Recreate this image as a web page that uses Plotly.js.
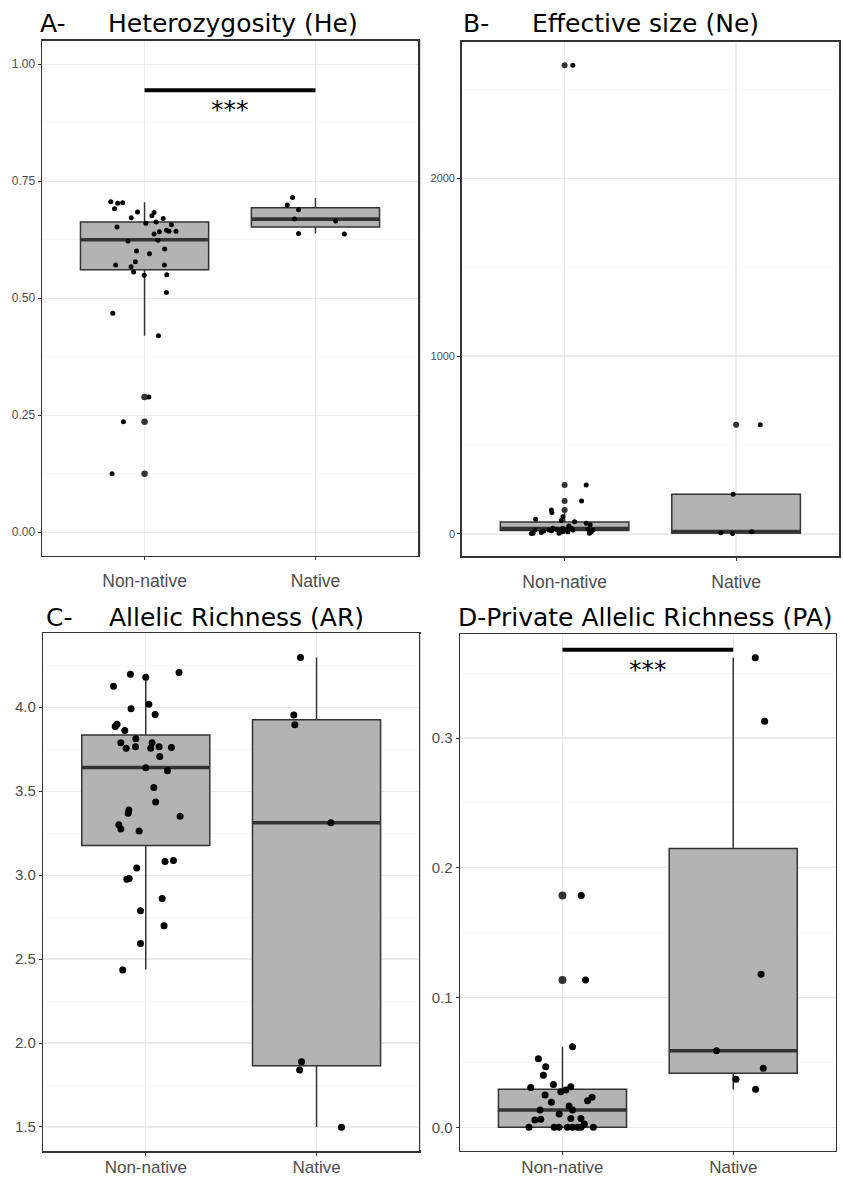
<!DOCTYPE html>
<html>
<head>
<meta charset="utf-8">
<script src="https://cdn.plot.ly/plotly-3.0.1.min.js"></script>
<style>html,body{margin:0;padding:0;background:#fff;}#chart{width:843px;height:1177px;}</style>
</head>
<body>
<div id="chart"></div>
<script>
// ---------------- DATA ----------------
var categories = ['Non-native', 'Native'];

// A - Heterozygosity (He)
var heNonNative = [0.706,0.703,0.704,0.691,0.684,0.672,0.683,0.676,0.670,0.663,0.660,0.657,0.652,0.642,0.637,0.645,0.643,0.643,0.624,0.622,0.601,0.605,0.595,0.571,0.578,0.567,0.571,0.556,0.549,0.550,0.512,0.468,0.420,0.289,0.236,0.125];
var heNonNativeJitter = [-0.198,-0.157,-0.128,-0.176,-0.041,-0.078,0.056,0.043,0.109,0.068,0.008,0.157,-0.161,0.087,0.056,0.128,0.143,0.184,0.079,-0.097,-0.047,0.118,0.029,-0.169,-0.054,-0.079,0.116,-0.064,-0.002,0.130,0.128,-0.186,0.081,0.025,-0.124,-0.190];
var heNative = [0.715,0.699,0.689,0.669,0.665,0.638,0.637];
var heNativeJitter = [-0.134,-0.165,-0.099,-0.122,0.118,-0.099,0.169];
var heQ1 = [0.561,0.652], heMedian = [0.625,0.669], heQ3 = [0.663,0.693], heLower = [0.420,0.638], heUpper = [0.705,0.714];
var heOutNonNative = [0.289,0.236,0.125];
var heOutNative = [];
var heSig = [0.944, 0.902]; // bar level, label level

// B - Effective size (Ne)
var neNonNative = [2635,275,185,135,120,82,97,75,69,60,51,45,4,22,8,17,22,18,27,4,22,13,22,13,32,22,27,4,22,2,32,32,13];
var neNonNativeJitter = [0.048,0.126,0.099,-0.077,-0.074,-0.169,-0.010,-0.019,0.058,0.126,0.149,0.025,-0.184,-0.174,-0.136,-0.122,-0.091,-0.076,-0.048,-0.033,-0.025,-0.016,0.010,0.019,0.039,0.048,0.136,0.145,0.165,-0.194,-0.068,-0.010,0.155];
var neNative = [614,223,7,2,13];
var neNativeJitter = [0.141,-0.017,-0.089,-0.021,0.091];
var neQ1 = [19,5], neMedian = [30,13], neQ3 = [67,223], neLower = [0,2], neUpper = [120,223];
var neOutNonNative = [2635,275,185,135];
var neOutNative = [614];

// C - Allelic Richness (AR)
var arNonNative = [4.125,4.196,4.179,4.206,3.990,4.018,3.956,3.885,3.899,3.861,3.812,3.788,3.756,3.764,3.788,3.756,3.764,3.760,3.706,3.639,3.621,3.522,3.435,3.387,3.369,3.351,3.300,3.274,3.262,3.081,3.087,3.042,2.976,2.980,2.861,2.788,2.698,2.593,2.435];
var arNonNativeJitter = [-0.189,-0.090,0.000,0.195,-0.086,0.018,0.055,-0.179,-0.168,-0.123,-0.058,-0.146,-0.115,-0.060,0.037,0.029,0.078,0.150,0.082,0.000,0.127,0.047,0.058,-0.099,-0.103,0.201,-0.158,-0.146,-0.039,0.113,0.162,-0.053,-0.111,-0.097,0.096,-0.031,0.107,-0.031,-0.135];
var arNative = [4.296,3.954,3.895,3.312,1.889,1.839,1.498];
var arNativeJitter = [-0.094,-0.133,-0.127,0.084,-0.088,-0.099,0.146];
var arQ1 = [3.177,1.865], arMedian = [3.641,3.312], arQ3 = [3.835,3.925], arLower = [2.438,1.500], arUpper = [4.170,4.296];
var arOutNonNative = [];
var arOutNative = [];

// D - Private Allelic Richness (PA)
var paNonNative = [0.0621,0.0529,0.0467,0.0401,0.0308,0.0331,0.0275,0.0288,0.0313,0.0249,0.0193,0.0205,0.0231,0.0133,0.0164,0.0133,0.0103,0.0056,0.0062,0.0069,0.0069,0.0025,0,0,0,0,0,0,0,0,0.1787,0.1136];
var paNonNativeJitter = [0.059,-0.141,-0.098,-0.112,-0.186,-0.053,-0.010,0.020,0.049,-0.102,-0.065,0.147,0.173,-0.131,0.039,0.059,-0.019,-0.161,-0.127,0.049,0.108,0.128,-0.196,-0.049,-0.020,0.029,0.059,0.088,0.108,0.181,0.110,0.135];
var paNative = [0.362,0.313,0.118,0.059,0.0455,0.037,0.0293];
var paNativeJitter = [0.129,0.184,0.163,-0.098,0.176,0.016,0.131];
var paQ1 = [0,0.0416], paMedian = [0.0134,0.059], paQ3 = [0.0293,0.215], paLower = [0,0.0293], paUpper = [0.0621,0.362];
var paOutNonNative = [0.1787,0.1136];
var paOutNative = [];
var paSig = [0.368, 0.353];

// tick labels
var heTicks = [0,0.25,0.5,0.75,1.0], heTickText = ['0.00','0.25','0.50','0.75','1.00'], heMinor = [0.125,0.375,0.625,0.875];
var neTicks = [0,1000,2000], neTickText = ['0','1000','2000'], neMinor = [500,1500,2500];
var arTicks = [1.5,2.0,2.5,3.0,3.5,4.0], arTickText = ['1.5','2.0','2.5','3.0','3.5','4.0'], arMinor = [1.75,2.25,2.75,3.25,3.75,4.25];
var paTicks = [0,0.1,0.2,0.3], paTickText = ['0.0','0.1','0.2','0.3'], paMinor = [0.05,0.15,0.25,0.35];

// ---------------- STYLE / BUILD ----------------
var W = 843, H = 1177;
var BOXW = 0.75;
var boxFill = '#b3b3b3', boxLine = '#333333', frame = '#333333';

function addPanel(traces, ax, s) {
  var xa = 'x' + (ax === 1 ? '' : ax), ya = 'y' + (ax === 1 ? '' : ax);
  traces.push({
    type: 'box', x: [0, 1], q1: s.q1, median: s.median, q3: s.q3,
    lowerfence: s.lower, upperfence: s.upper, width: BOXW,
    fillcolor: boxFill, line: {color: boxLine, width: 1.5}, whiskerwidth: 0,
    boxpoints: false, xaxis: xa, yaxis: ya, hoverinfo: 'skip'
  });
  for (var i = 0; i < 2; i++) {
    traces.push({
      type: 'scatter', mode: 'lines', x: [i - BOXW / 2, i + BOXW / 2], y: [s.median[i], s.median[i]],
      line: {color: boxLine, width: 3.6}, xaxis: xa, yaxis: ya, hoverinfo: 'skip'
    });
  }
  var outs = [s.outN, s.outNat];
  for (var c = 0; c < 2; c++) {
    if (outs[c].length) {
      traces.push({
        type: 'scatter', mode: 'markers', x: outs[c].map(function () { return c; }), y: outs[c],
        marker: {color: '#333333', size: s.outSize}, xaxis: xa, yaxis: ya, hoverinfo: 'skip'
      });
    }
  }
  var vals = [s.vN, s.vNat], jit = [s.jN, s.jNat];
  for (var k = 0; k < 2; k++) {
    traces.push({
      type: 'scatter', mode: 'markers', x: jit[k].map(function (d) { return k + d; }), y: vals[k],
      marker: {color: '#000000', size: s.ptSize}, xaxis: xa, yaxis: ya, hoverinfo: 'skip'
    });
  }
  if (s.sig) {
    traces.push({
      type: 'scatter', mode: 'lines', x: [0, 1], y: [s.sig[0], s.sig[0]],
      line: {color: '#000000', width: 4}, xaxis: xa, yaxis: ya, hoverinfo: 'skip'
    });
  }
}

var traces = [];
addPanel(traces, 1, {q1: heQ1, median: heMedian, q3: heQ3, lower: heLower, upper: heUpper,
  outN: heOutNonNative, outNat: heOutNative, vN: heNonNative, jN: heNonNativeJitter, vNat: heNative, jNat: heNativeJitter,
  ptSize: 5, outSize: 6.5, sig: heSig});
addPanel(traces, 2, {q1: neQ1, median: neMedian, q3: neQ3, lower: neLower, upper: neUpper,
  outN: neOutNonNative, outNat: neOutNative, vN: neNonNative, jN: neNonNativeJitter, vNat: neNative, jNat: neNativeJitter,
  ptSize: 5, outSize: 6});
addPanel(traces, 3, {q1: arQ1, median: arMedian, q3: arQ3, lower: arLower, upper: arUpper,
  outN: arOutNonNative, outNat: arOutNative, vN: arNonNative, jN: arNonNativeJitter, vNat: arNative, jNat: arNativeJitter,
  ptSize: 7, outSize: 8});
addPanel(traces, 4, {q1: paQ1, median: paMedian, q3: paQ3, lower: paLower, upper: paUpper,
  outN: paOutNonNative, outNat: paOutNative, vN: paNonNative, jN: paNonNativeJitter, vNat: paNative, jNat: paNativeJitter,
  ptSize: 7, outSize: 8, sig: paSig});

function xAxis(left, right, standoff, fsize) {
  return {
    domain: [left / W, right / W], range: [-0.6, 1.6], tickmode: 'array', tickvals: [0, 1], ticktext: categories,
    showgrid: true, gridcolor: '#ededed', gridwidth: 1.2, zeroline: false,
    showline: true, mirror: true, linecolor: frame, linewidth: 1.5,
    ticks: 'outside', ticklen: 3, tickcolor: frame, tickwidth: 1,
    ticklabelstandoff: standoff,
    tickfont: {family: 'Liberation Sans, Arial, sans-serif', size: fsize, color: '#4d4d4d'}, fixedrange: true
  };
}
function yAxis(top, bottom, range, tv, tt, minor, fsize, anchor) {
  return {
    domain: [(H - bottom) / H, (H - top) / H], range: range, tickmode: 'array', tickvals: tv, ticktext: tt,
    showgrid: true, gridcolor: '#ebebeb', gridwidth: 1.2, zeroline: false,
    minor: {tickmode: 'array', tickvals: minor, showgrid: true, gridcolor: '#f5f5f5', gridwidth: 0.7, ticks: ''},
    showline: true, mirror: true, linecolor: frame, linewidth: 1.5,
    ticks: 'outside', ticklen: 3, tickcolor: frame, tickwidth: 1,
    tickfont: {family: 'Liberation Sans, Arial, sans-serif', size: fsize, color: '#4d4d4d'}, fixedrange: true,
    anchor: anchor
  };
}

var titleFont = {family: 'DejaVu Sans, sans-serif', size: 25, color: '#000000'};
function ann(text, xpx, ypx, xanchor) {
  return {text: text, xref: 'paper', yref: 'paper', x: xpx / W, y: 1 - ypx / H, xanchor: xanchor, yanchor: 'middle',
    showarrow: false, font: titleFont};
}

var layout = {
  width: W, height: H, margin: {l: 0, r: 0, t: 0, b: 0},
  paper_bgcolor: '#ffffff', plot_bgcolor: '#ffffff', showlegend: false,
  xaxis: xAxis(42, 418, 6, 17.5), yaxis: yAxis(40.7, 555.7, [-0.05, 1.05], heTicks, heTickText, heMinor, 12, 'x'),
  xaxis2: Object.assign(xAxis(461.7, 839, 6, 17.5), {anchor: 'y2'}), yaxis2: yAxis(41.7, 556, [-124, 2767], neTicks, neTickText, neMinor, 11, 'x2'),
  xaxis3: Object.assign(xAxis(43.3, 419, -3, 17), {anchor: 'y3'}), yaxis3: yAxis(633.3, 1151, [1.357, 4.44], arTicks, arTickText, arMinor, 15, 'x3'),
  xaxis4: Object.assign(xAxis(460, 835.7, -3, 17), {anchor: 'y4'}), yaxis4: yAxis(634.3, 1150.7, [-0.018, 0.380], paTicks, paTickText, paMinor, 15, 'x4'),
  annotations: [
    ann('A-', 38, 23, 'left'), ann('Heterozygosity (He)', 106, 23, 'left'),
    ann('B-', 461, 23, 'left'), ann('Effective size (Ne)', 530, 23, 'left'),
    ann('C-', 44, 617, 'left'), ann('Allelic Richness (AR)', 107, 617, 'left'),
    ann('D-Private Allelic Richness (PA)', 456, 617, 'left'),
    {text: '***', xref: 'x', yref: 'y', x: 0.5, y: heSig[1], xanchor: 'center', yanchor: 'middle', showarrow: false, font: titleFont},
    {text: '***', xref: 'x4', yref: 'y4', x: 0.5, y: paSig[1], xanchor: 'center', yanchor: 'middle', showarrow: false, font: titleFont}
  ],
  shapes: [
    {type: 'line', xref: 'paper', yref: 'paper', x0: 420.5 / W, x1: 420.5 / W, y0: 1 - 555 / H, y1: 1 - 40 / H, line: {color: '#d6d6d6', width: 1}},
    {type: 'line', xref: 'paper', yref: 'paper', x0: 420.5 / W, x1: 420.5 / W, y0: 1 - 1150 / H, y1: 1 - 634 / H, line: {color: '#d6d6d6', width: 1}}
  ]
};

Plotly.newPlot('chart', traces, layout, {staticPlot: true, displayModeBar: false});
</script>
</body>
</html>
